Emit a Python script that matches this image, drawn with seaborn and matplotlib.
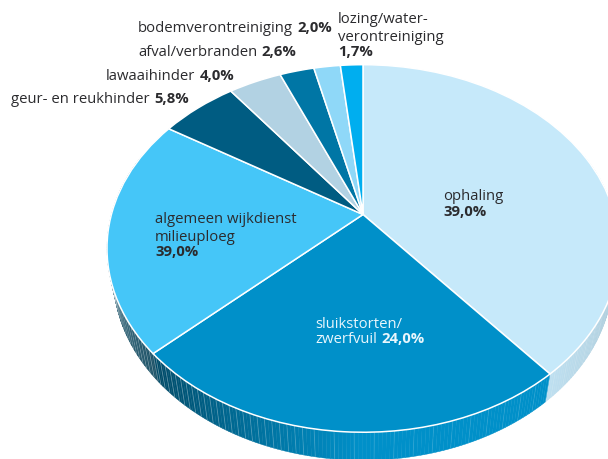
import numpy as np
import matplotlib
matplotlib.use('Agg')
import matplotlib.pyplot as plt
from matplotlib.collections import PolyCollection, LineCollection
from matplotlib.colors import to_rgb
from matplotlib.transforms import Transform
import seaborn as sns

categories = ['ophaling', 'sluikstorten/zwerfvuil', 'algemeen wijkdienst milieuploeg',
              'geur- en reukhinder', 'lawaaihinder', 'afval/verbranden',
              'bodemverontreiniging', 'lozing/waterverontreiniging']
# the third slice is printed as 39,0% but drawn at about 20,9%
values = [39.0, 24.0, 20.9, 5.8, 4.0, 2.6, 2.0, 1.7]
colors = ['#c6e9fa', '#0090c9', '#45c6f8', '#005c82', '#b2d2e3', '#0076a5', '#8fd8f8', '#00aeef']

sns.set_theme(style='white')
plt.rcParams['font.family'] = ['Open Sans', 'DejaVu Sans']

# tilted disc, center and radii in pixels
CX, CY = 363, 215.5
RX, RY = 251.6, 177.5
TILT = 0.1848
DEPTH = 28
LOWER = 0.975  # lower edge of the side is a bit narrower than the top


def project(x, y):
    w = 1 + TILT * y
    return CX + RX * x / w, CY - RY * y / w


class Tilt(Transform):
    input_dims = output_dims = 2
    is_affine = False

    def transform_non_affine(self, values):
        px, py = project(values[:, 0], values[:, 1])
        return np.column_stack([px, py])


def rim_shade(deg, name):
    # how dark the side gets, going round clockwise from the top
    if name == 0:
        return 0.82 + 0.14 * np.clip((deg - 90) / 50, 0, 1)
    if name == 1:
        return 1.0 - 0.5 * np.clip((deg - 180) / 47, 0, 1)
    return 0.42


fig = plt.figure(figsize=(6.08, 4.6), dpi=100)
ax = fig.add_axes([0, 0, 1, 1])

wedges, _ = ax.pie(values, colors=sns.color_palette(colors), startangle=90, counterclock=False,
                   wedgeprops={'edgecolor': 'white', 'linewidth': 1.1, 'zorder': 3})
tilt = Tilt() + ax.transData
for wedge in wedges:
    wedge.set_transform(tilt)
    wedge.set_clip_on(False)

ax.set_aspect('auto')
ax.set_xlim(0, 608)
ax.set_ylim(460, 0)
ax.axis('off')

# side of the disc
edges = np.cumsum([0] + values) * 3.6
quads, quad_colors, stripes, stripe_colors = [], [], [], []
for i, col in enumerate(colors):
    angles = np.arange(edges[i], edges[i + 1] + 0.01, 0.75)
    angles = np.append(angles, edges[i + 1])
    base = np.array(to_rgb(col))
    for n, (a0, a1) in enumerate(zip(angles[:-1], angles[1:])):
        if a1 < 70 or a0 > 290:
            continue
        x0, y0 = project(np.sin(np.radians(a0)), np.cos(np.radians(a0)))
        x1, y1 = project(np.sin(np.radians(a1)), np.cos(np.radians(a1)))
        x0b = CX + (x0 - CX) * LOWER
        x1b = CX + (x1 - CX) * LOWER
        quads.append([(x0, y0), (x1, y1), (x1b, y1 + DEPTH), (x0b, y0 + DEPTH)])
        quad_colors.append(base * rim_shade(a0, i))
        # sparse faint stripes at the front, dense ones towards the left
        if a0 < 190 and n % 5:
            continue
        if a0 >= 190 and n % 2:
            continue
        strength = 0.12 + 0.2 * np.clip((a0 - 170) / 50, 0, 1)
        stripes.append([(x0, y0), (x0b, y0 + DEPTH)])
        stripe_colors.append((1, 1, 1, strength))

ax.add_collection(PolyCollection(quads, facecolors=quad_colors, edgecolors=quad_colors,
                                 linewidths=0.3, zorder=1))
ax.add_collection(LineCollection(stripes, colors=stripe_colors, linewidths=0.6, zorder=2))


def label(x, y, plain, bold='', color='#2b2b2e', size=10.7):
    t = None
    if plain:
        t = ax.text(x, y, plain, color=color, fontsize=size, va='baseline', ha='left', zorder=5)
    if bold:
        if t is not None:
            fig.canvas.draw()
            box = t.get_window_extent()
            x = ax.transData.inverted().transform((box.x1, box.y0))[0] + 4.5
        ax.text(x, y, bold, color=color, fontsize=size, fontweight='bold', va='baseline', ha='left', zorder=5)


label(138, 32, 'bodemverontreiniging', '2,0%')
label(138, 56, 'afval/verbranden', '2,6%')
label(106, 80, 'lawaaihinder', '4,0%')
label(11, 103, 'geur- en reukhinder', '5,8%')
label(338, 23, 'lozing/water-')
label(338, 41, 'verontreiniging')
label(338, 56, '', '1,7%')
label(443, 200, 'ophaling')
label(443, 216, '', '39,0%')
label(155, 223, 'algemeen wijkdienst')
label(155, 241, 'milieuploeg')
label(155, 256, '', '39,0%')
label(315, 328, 'sluikstorten/', color='#e8f6fc')
label(315, 343, 'zwerfvuil', '24,0%', color='#e8f6fc')

fig.savefig('out.png', dpi=100)
